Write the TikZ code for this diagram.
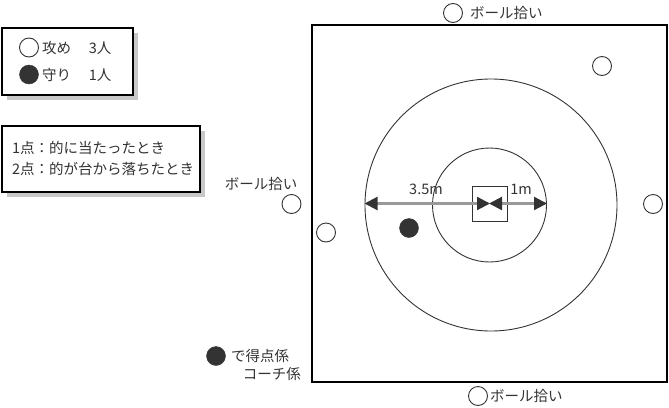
\documentclass[tikz,border=0pt]{standalone}
\usepackage{fontspec}
\setmainfont{Noto Sans CJK JP}
\usetikzlibrary{arrows.meta}
\definecolor{ink}{HTML}{333333}
\definecolor{shadowgray}{HTML}{C8C8C8}
\definecolor{dimgray}{HTML}{999999}
\tikzset{
  txt/.style={font=\fontsize{14.5}{17}\selectfont, text=ink, inner sep=0pt},
  openp/.style={circle, draw=ink, line width=0.9pt, minimum size=19pt, inner sep=0pt},
  fullp/.style={circle, fill=ink, draw=ink, minimum size=19pt, inner sep=0pt},
  legbox/.style={draw=black, line width=1.2pt, fill=white},
  shadowbox/.style={fill=shadowgray, draw=none},
  ring/.style={circle, draw=ink, line width=0.9pt, inner sep=0pt},
  dimline/.style={draw=dimgray, line width=2.2pt, {Triangle[length=13pt,width=13pt,color=ink]}-{Triangle[length=13pt,width=13pt,color=ink]}, shorten <=-0.5pt, shorten >=-0.5pt}
}
\begin{document}
\begin{tikzpicture}[x=1pt,y=-1pt]
\useasboundingbox (0,0) rectangle (669,407);
% legend boxes
\fill[shadowbox] (7,33) rectangle (138,100);
\draw[legbox] (2,28) rectangle (133,95);
\fill[shadowbox] (7,131) rectangle (205,197);
\draw[legbox] (2,126) rectangle (200,192);
\node[openp] (lo) at (29,47.5) {};
\node[txt, anchor=west] (lot) at (42,47.5) {攻め　 3人};
\node[fullp] (lf) at (29,74.5) {};
\node[txt, anchor=west] (lft) at (42,74.5) {守り　 1人};
\node[txt, anchor=west] (r1) at (12,148) {1点：的に当たったとき};
\node[txt, anchor=west] (r2) at (12,169) {2点：的が台から落ちたとき};
% field
\node[draw=black, line width=1.2pt, minimum width=355pt, minimum height=357pt, inner sep=0pt] (field) at (489.5,203.5) {};
\coordinate (c) at (489.5,203.5);
\node[ring, minimum size=252pt] (big) at (491,205) {};
\node[ring, minimum size=114pt] (small) at (489.5,205) {};
\node[draw=ink, line width=0.9pt, minimum size=35pt, inner sep=0pt] (tgt) at (c) {};
\coordinate (bl) at (365,203.5);
\coordinate (sr) at (546.5,203.5);
\draw[dimline] (bl) -- (c);
\draw[dimline] (c) -- (sr);
\node[txt] (l35) at (426,189) {3.5m};
\node[txt] (l1) at (521,189) {1m};
% players
\node[openp] (p1) at (453,13) {};
\node[txt, anchor=west] (p1t) at (470,13) {ボール拾い};
\node[openp] (p2) at (602,66) {};
\node[openp] (p3) at (653,204) {};
\node[openp] (p4) at (291.5,204) {};
\node[txt] (p4t) at (261,184) {ボール拾い};
\node[openp] (p5) at (326,232.5) {};
\node[openp] (p6) at (478,396) {};
\node[txt, anchor=west] (p6t) at (490,396) {ボール拾い};
\node[fullp] (def) at (409,228) {};
\node[fullp] (sc) at (216,356) {};
\node[txt, anchor=west] (sct) at (231,356) {で得点係};
\node[txt, anchor=east] (cct) at (301,374) {コーチ係};
\end{tikzpicture}
\end{document}
